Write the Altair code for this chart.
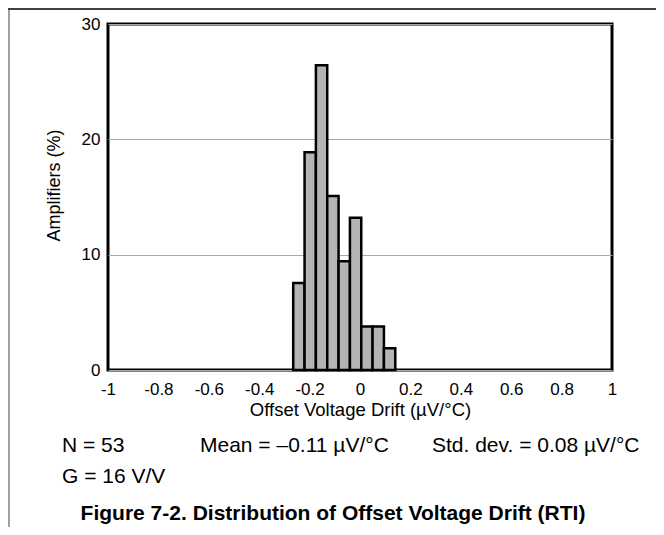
import altair as alt
import pandas as pd

# Histogram bins (µV/°C) and percentage of amplifiers (N = 53)
bin_start = [-0.265, -0.22, -0.175, -0.13, -0.085, -0.04, 0.005, 0.05, 0.095]
bin_end = [-0.22, -0.175, -0.13, -0.085, -0.04, 0.005, 0.05, 0.095, 0.14]
amplifiers_pct = [7.55, 18.87, 26.42, 15.09, 9.43, 13.21, 3.77, 3.77, 1.89]

x_ticks = [-1, -0.8, -0.6, -0.4, -0.2, 0, 0.2, 0.4, 0.6, 0.8, 1]
y_ticks = [0, 10, 20, 30]

x_title = "Offset Voltage Drift (\u00b5V/\u00b0C)"
y_title = "Amplifiers (%)"
note_n = "N = 53"
note_mean = "Mean = \u20130.11 \u00b5V/\u00b0C"
note_std = "Std. dev. = 0.08 \u00b5V/\u00b0C"
note_g = "G = 16 V/V"
caption = "Figure 7-2. Distribution of Offset Voltage Drift (RTI)"

FONT = "Liberation Sans, Arial, Helvetica, sans-serif"

df = pd.DataFrame({"start": bin_start, "end": bin_end, "pct": amplifiers_pct})
one = pd.DataFrame({"k": [0]})

W, H = 504, 346

bars = alt.Chart(df).mark_bar(
    fill="#b4b4b4", stroke="#000000", strokeWidth=2.5
).encode(
    x=alt.X(
        "start:Q",
        scale=alt.Scale(domain=[-1, 1], nice=False, zero=False),
        axis=alt.Axis(
            values=x_ticks,
            labelExpr="toString(round(datum.value*10)/10)",
            ticks=False,
            domain=False,
            grid=False,
            labelFontSize=17,
            labelPadding=11,
            labelColor="#000000",
            labelFont=FONT,
            labelFlush=False,
            labelOverlap=False,
            title=x_title,
            titleFontSize=18.5,
            titleFontWeight="normal",
            titleFont=FONT,
            titleColor="#000000",
            titlePadding=3,
        ),
    ),
    x2="end:Q",
    y=alt.Y(
        "pct:Q",
        scale=alt.Scale(domain=[0, 30], nice=False),
        axis=alt.Axis(
            values=y_ticks,
            ticks=False,
            domain=False,
            grid=True,
            gridColor="#a8a8a8",
            gridWidth=1,
            labelFontSize=17,
            labelPadding=8,
            labelColor="#000000",
            labelFont=FONT,
            labelFlush=False,
            labelOverlap=False,
            title=y_title,
            titleFontSize=18,
            titleFontWeight="normal",
            titleFont=FONT,
            titleColor="#000000",
            titleAngle=270,
            titleAlign="center",
            titleBaseline="middle",
            titleX=-54,
            titleY=161,
        ),
    ),
    y2=alt.datum(0),
)

def note(txt, x, y, size=21, weight="normal", align="left"):
    return alt.Chart(one).mark_text(
        text=txt, font=FONT, fontSize=size, fontWeight=weight,
        align=align, baseline="alphabetic", color="#000000",
    ).encode(x=alt.value(x), y=alt.value(y))

texts = [
    note(note_n, -46, 428),
    note(note_mean, 92, 428),
    note(note_std, 324, 428),
    note(note_g, -46, 459),
    note(caption, 225, 496, size=21, weight="bold", align="center"),
]

top_line = alt.Chart(one).mark_rule(color="#000000", strokeWidth=1.5).encode(
    x=alt.value(-100), x2=alt.value(548), y=alt.value(-15)
)
left_line = alt.Chart(one).mark_rule(color="#808080", strokeWidth=1.5).encode(
    x=alt.value(-99), y=alt.value(-14), y2=alt.value(503)
)

chart = alt.layer(bars, *texts, top_line, left_line).properties(
    width=W,
    height=H,
    autosize=alt.AutoSizeParams(type="none"),
    padding={"left": 100, "top": 16, "right": 44, "bottom": 157},
    background="#ffffff",
).configure_view(
    stroke="#000000", strokeWidth=3
)

chart.save("out.html", embed_options={"renderer": "svg", "actions": False})
